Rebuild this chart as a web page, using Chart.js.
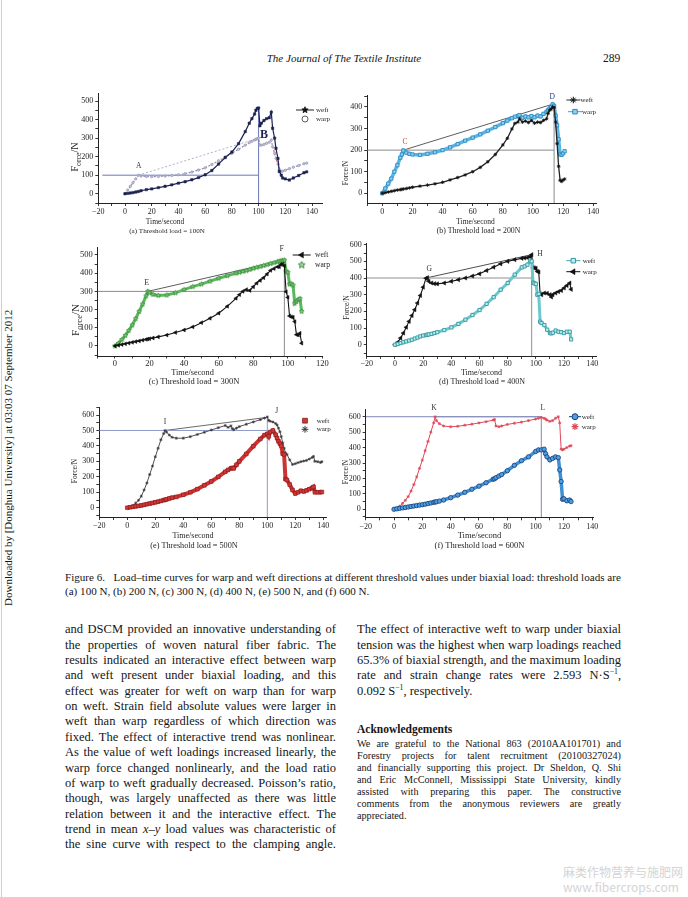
<!DOCTYPE html>
<html>
<head>
<meta charset="utf-8">
<title>Figure 6 – Load–time curves</title>
<script src="https://cdn.jsdelivr.net/npm/chart.js@4.4.1/dist/chart.umd.min.js"></script>
<style>
html,body{margin:0;padding:0;background:#fff}
body{position:relative;width:688px;height:897px;overflow:hidden;font-family:"Liberation Serif","Times New Roman",serif;color:#151515}
.a{position:absolute;white-space:nowrap}
canvas{position:absolute}
.col{position:absolute}
.col div{text-align:justify;text-align-last:justify;white-space:nowrap}
.col div.l{text-align-last:left}
sup{font-size:0.62em;line-height:0;vertical-align:0.6em}
</style>
</head>
<body>
<div class="a" style="left:1px;top:0;width:1px;height:897px;background:#cfcfcf"></div>
<div class="a" style="left:0;width:688px;top:50px;text-align:center;font-style:italic;font-size:11px;line-height:16px">The Journal of The Textile Institute</div>
<div class="a" style="left:603px;top:50px;font-size:11.5px;line-height:16px">289</div>
<div class="a" style="left:2px;top:606px;transform-origin:0 0;transform:rotate(-90deg);font-size:11px;line-height:13px">Downloaded by [Donghua University] at 03:03 07 September 2012</div>

<div class="col" style="left:65px;top:570px;width:555px;font-size:11.1px;line-height:14px">
<div>Figure 6.&nbsp;&nbsp; Load–time curves for warp and weft directions at different threshold values under biaxial load: threshold loads are</div>
<div class="l">(a) 100 N, (b) 200 N, (c) 300 N, (d) 400 N, (e) 500 N, and (f) 600 N.</div>
</div>

<div class="col" style="left:65px;top:622.3px;width:271px;font-size:12.5px;line-height:15.36px">
<div>and DSCM provided an innovative understanding of</div>
<div>the properties of woven natural fiber fabric. The</div>
<div>results indicated an interactive effect between warp</div>
<div>and weft present under biaxial loading, and this</div>
<div>effect was greater for weft on warp than for warp</div>
<div>on weft. Strain field absolute values were larger in</div>
<div>weft than warp regardless of which direction was</div>
<div>fixed. The effect of interactive trend was nonlinear.</div>
<div>As the value of weft loadings increased linearly, the</div>
<div>warp force changed nonlinearly, and the load ratio</div>
<div>of warp to weft gradually decreased. Poisson’s ratio,</div>
<div>though, was largely unaffected as there was little</div>
<div>relation between it and the interactive effect. The</div>
<div>trend in mean <i>x</i>–<i>y</i> load values was characteristic of</div>
<div>the sine curve with respect to the clamping angle.</div>
</div>

<div class="col" style="left:357px;top:622.3px;width:264px;font-size:12.5px;line-height:15.36px">
<div>The effect of interactive weft to warp under biaxial</div>
<div>tension was the highest when warp loadings reached</div>
<div>65.3% of biaxial strength, and the maximum loading</div>
<div>rate and strain change rates were 2.593 N·S<sup>−1</sup>,</div>
<div class="l">0.092 S<sup>−1</sup>, respectively.</div>
</div>

<div class="a" style="left:357px;top:721px;font-size:11.5px;line-height:16px;font-weight:bold">Acknowledgements</div>
<div class="col" style="left:357px;top:737.7px;width:264px;font-size:10.2px;line-height:12px">
<div>We are grateful to the National 863 (2010AA101701) and</div>
<div>Forestry projects for talent recruitment (20100327024)</div>
<div>and financially supporting this project. Dr Sheldon, Q. Shi</div>
<div>and Eric McConnell, Mississippi State University, kindly</div>
<div>assisted with preparing this paper. The constructive</div>
<div>comments from the anonymous reviewers are greatly</div>
<div class="l">appreciated.</div>
</div>

<div class="a" style="left:563px;top:865px;font-family:'Noto Sans CJK SC';font-size:12px;line-height:14px;color:#d4d4d4">麻类作物营养与施肥网</div>
<div class="a" style="left:563px;top:880px;font-family:'Noto Sans CJK SC';font-size:12px;line-height:14px;color:#d4d4d4">www.fibercrops.com</div>

<script>
// ================= DATA =================
// (a) threshold 100 N
const aTime = [0,2,4,6,8,10,12,16,20,25,30,35,40,45,50,55,60,65,70,75,80,85,90,93,95,97,98,99,100,101,102,104,106,108,109.5,110.5,112,113,114.5,115.5,117,118,120,123,126,130,134,136];
const aWeft = [0,2,4,6,9,12,16,22,26,33,40,48,57,65,75,87,102,125,160,195,225,270,335,380,405,430,450,460,462,367,380,395,405,410,440,353,300,245,190,120,100,85,80,74,85,98,113,118];
const aWarp = [0,20,40,60,80,100,95,93,92,93,95,98,102,108,117,128,140,158,178,198,218,240,262,275,283,290,293,297,300,263,262,266,272,278,290,254,218,191,160,130,119,122,127,135,143,152,162,165];
// (b) threshold 200 N
const bTime = [0,2,4,6,8,10,12,13,14,16,18,20,25,30,35,40,45,50,55,60,65,70,75,80,83,86,88,90,91,93,95,97,99,101,103,105,107,109,110,111,112,113,114,115,116,117,118,119,120,121];
const bWeft = [0,3,6,9,12,15,17,18,20,22,25,28,33,38,44,51,62,73,85,100,120,146,180,224,255,298,324,330,345,330,335,328,338,325,330,328,338,345,370,385,390,400,398,330,230,125,60,55,62,66];
const bWarp = [0,22,45,68,100,130,165,180,198,188,183,180,178,183,190,200,213,228,244,258,273,290,307,325,337,348,355,358,362,350,356,352,358,352,360,356,368,378,385,393,400,412,405,360,315,250,180,178,185,195];
// (c) threshold 300 N
const cTime = [0,2,4,6,8,10,12,14,16,18,19,20,22,25,30,35,40,45,50,55,60,65,70,72,74,76,78,80,82,84,86,88,90,92,94,95,96,97,98,99,100,101,102,103,104,105,106,107,108];
const cWeft = [0,4,8,12,16,20,24,28,32,36,38,40,44,50,60,74,88,105,128,152,180,218,262,282,300,310,305,325,345,360,375,395,415,425,435,435,448,450,440,298,267,165,160,158,134,62,60,70,15];
const cWarp = [0,15,35,58,85,115,150,190,230,275,300,292,283,278,280,292,310,326,340,356,372,386,400,405,410,414,420,427,432,437,442,447,453,458,463,465,468,470,472,410,405,340,342,335,235,245,255,260,190];
// (d) threshold 400 N
const dTime = [0,2,4,6,8,10,12,14,16,18,20,22,23,24,26,28,30,35,40,45,50,55,60,65,70,75,80,85,90,92,94,96,97,98,99,100,101,102,103,104,106,108,110,111,112,114,116,118,120,122,124,125];
const dWeft = [0,5,10,15,20,25,30,37,43,50,55,58,60,62,65,70,75,88,104,125,150,178,208,245,285,330,370,420,464,470,480,505,500,372,368,365,300,305,138,130,118,90,70,68,72,85,78,75,70,78,78,32];
const dWarp = [0,15,40,70,105,140,175,210,250,295,345,398,402,380,370,366,365,370,380,390,400,412,425,445,465,485,500,510,518,520,522,528,540,462,460,458,440,436,305,300,310,308,300,286,300,310,318,325,340,355,370,332];
// (e) threshold 500 N
const eTime = [0,2,4,6,8,10,12,14,16,18,20,22,24,26,27,28,30,32,35,40,45,50,55,60,65,70,72,74,75,76,78,80,85,90,95,98,100,101,102,104,106,107,108,109,110,111,112,113,114,116,118,120,122,124,126,128,130,132,133,134,136,138,139];
const eWeft = [0,3,6,9,12,15,19,23,27,31,35,39,44,49,51,54,60,65,70,84,100,120,145,170,200,233,245,255,258,255,278,300,348,398,445,470,478,462,490,500,472,450,430,415,400,350,345,185,180,150,115,92,100,110,105,112,120,128,135,100,100,100,102];
const eWarp = [0,5,15,30,48,75,115,160,215,270,330,385,440,480,500,490,470,456,450,450,460,474,488,503,518,532,520,530,512,505,515,525,540,555,570,580,588,565,560,555,545,535,515,492,460,420,385,355,345,310,280,285,292,298,302,306,315,325,332,300,298,293,298];
// (f) threshold 600 N
const fTime = [0,2,4,6,8,10,12,14,16,18,20,22,24,26,28,29,30,32,35,40,45,50,55,60,65,70,71,72,74,76,80,85,90,95,100,102,104,106,107,108,110,112,114,116,117,118,119,120,122,124,125];
const fWeft = [0,3,6,9,12,15,18,21,24,27,30,33,37,41,45,47,49,53,60,75,92,110,130,150,172,195,198,205,215,225,250,285,315,340,375,385,385,390,360,340,320,330,340,335,255,180,65,68,55,60,50];
const fWarp = [0,8,20,38,58,82,118,160,210,265,319,380,440,500,560,600,575,555,540,535,538,545,552,560,568,578,582,540,535,540,550,558,565,575,585,590,595,590,585,578,570,575,590,600,560,390,385,390,400,410,412];

// guide values per panel (a..f)
const thresholds = [100, 200, 300, 400, 500, 600];
const kneeTimes  = [10, 14, 19, 22, 27, 29];          // A C E G I K
const peakTimes  = [100, 114, 98, 97, 100, 104];      // B D F H J L
const peakForces = [300, 415, 472, 540, 585, 600];
const vLineTops  = [460, 412, 472, 542, 585, 600];
const hLineStarts = [-17, -10, -10, -20, -20, -20];

// tick labels
const aXLabels = [-20,0,20,40,60,80,100,120,140], aYLabels = [0,100,200,300,400,500];
const bXLabels = [0,20,40,60,80,100,120,140],     bYLabels = [0,100,200,300,400];
const cXLabels = [0,20,40,60,80,100,120],         cYLabels = [0,100,200,300,400,500];
const dXLabels = [-20,0,20,40,60,80,100,120,140], dYLabels = [0,100,200,300,400,500,600];
const eXLabels = [-20,0,20,40,60,80,100,120,140], eYLabels = [0,100,200,300,400,500,600];
const fXLabels = [-20,0,20,40,60,80,100,120,140], fYLabels = [0,100,200,300,400,500,600];

const xTitle = 'Time/second';
const captions = ['(a) Threshold load = 100N','(b) Threshold load = 200N','(c) Threshold load = 300N',
                  '(d) Threshold load = 400N','(e) Threshold load = 500N','(f) Threshold load = 600N'];
const letters = [['A','B'],['C','D'],['E','F'],['G','H'],['I','J'],['K','L']];

// ================= HELPERS =================
const FONT = '"Liberation Serif","Times New Roman",serif';
Chart.defaults.font.family = FONT;
Chart.defaults.color = '#1e1e1e';

function pts(t, v) { return t.map((x, i) => ({x: x, y: v[i]})); }
function fmt(v) { return v < 0 ? '\u2212' + (-v) : String(v); }
function tickValues(labels, min, max) {
  const step = labels[1] - labels[0], out = [];
  for (let v = labels[0] - step; v <= labels[labels.length - 1] + step + 1e-9; v += step / 2)
    if (v >= min - 1e-9 && v <= max + 1e-9) out.push(v);
  return out;
}
function starCanvas(r, fill, stroke, lw) {
  const s = Math.ceil(r * 2 + 3), c = document.createElement('canvas');
  c.width = s; c.height = s;
  const g = c.getContext('2d');
  g.beginPath();
  for (let i = 0; i < 10; i++) {
    const ang = -Math.PI / 2 + i * Math.PI / 5, rr = (i % 2) ? r * 0.45 : r;
    g.lineTo(s / 2 + rr * Math.cos(ang), s / 2 + rr * Math.sin(ang));
  }
  g.closePath();
  if (fill) { g.fillStyle = fill; g.fill(); }
  if (stroke) { g.strokeStyle = stroke; g.lineWidth = lw || 0.8; g.stroke(); }
  return c;
}
function drawMarker(ctx, m, x, y) {
  ctx.save();
  if (m.style instanceof HTMLCanvasElement) {
    ctx.drawImage(m.style, x - m.style.width / 2, y - m.style.height / 2);
  } else {
    ctx.fillStyle = m.fill || 'rgba(0,0,0,0)';
    ctx.strokeStyle = m.stroke || '#000';
    ctx.lineWidth = m.bw || 1;
    if (Chart.helpers && Chart.helpers.drawPoint) {
      Chart.helpers.drawPoint(ctx, {pointStyle: m.style, radius: m.r, rotation: m.rot || 0, borderWidth: m.bw || 1}, x, y);
    }
  }
  ctx.restore();
}
function guides(i, yMin, hColor, dColor, dDash) {
  const base = {pointRadius: 0, borderWidth: 1, tension: 0, fill: false};
  return [
    Object.assign({}, base, {data: [{x: hLineStarts[i], y: thresholds[i]}, {x: peakTimes[i], y: thresholds[i]}], borderColor: hColor}),
    Object.assign({}, base, {data: [{x: peakTimes[i], y: yMin}, {x: peakTimes[i], y: vLineTops[i]}], borderColor: hColor}),
    Object.assign({}, base, {data: [{x: kneeTimes[i], y: thresholds[i]}, {x: peakTimes[i], y: peakForces[i]}], borderColor: dColor, borderWidth: 0.8, borderDash: dDash || []})
  ];
}

function makePanel(p) {
  const [rl, rt, rw, rh] = p.rect;
  const cv = document.createElement('canvas');
  cv.width = rw; cv.height = rh;
  cv.style.left = rl + 'px'; cv.style.top = rt + 'px';
  cv.style.width = rw + 'px'; cv.style.height = rh + 'px';
  document.body.appendChild(cv);
  const YW = 30, XH = 14;
  const pad = {
    left: Math.max(0, p.plot[0] - rl - YW), right: Math.max(0, rl + rw - p.plot[1]),
    top: Math.max(0, p.plot[2] - rt), bottom: Math.max(0, rt + rh - p.plot[3] - XH)
  };
  const xt = tickValues(p.xLabels, p.xMin, p.xMax), yt = tickValues(p.yLabels, p.yMin, p.yMax);

  const decor = {
    id: 'decor' + p.idx,
    afterDraw(chart) {
      const ctx = chart.ctx, xs = chart.scales.x, ys = chart.scales.y;
      ctx.save();
      ctx.textAlign = 'center'; ctx.textBaseline = 'middle';
      // point letters
      p.letterPos.forEach((L, k) => {
        ctx.font = (L.bold ? 'bold ' : '') + L.size + 'px ' + FONT;
        ctx.fillStyle = L.color || '#333';
        ctx.fillText(letters[p.idx][k], xs.getPixelForValue(L.x), ys.getPixelForValue(L.y));
      });
      // legend (inside plot area, top right)
      p.legend.forEach(it => {
        const lx = it.mx - rl, ly = it.y - rt;
        if (it.seg) {
          ctx.save();
          ctx.strokeStyle = it.segColor; ctx.lineWidth = 1;
          ctx.beginPath(); ctx.moveTo(lx - it.seg, ly); ctx.lineTo(lx + it.seg, ly); ctx.stroke();
          ctx.restore();
        }
        drawMarker(ctx, it.marker, lx, ly);
        ctx.font = p.legendFont + 'px ' + FONT; ctx.fillStyle = '#222';
        ctx.textAlign = 'left';
        ctx.fillText(it.label, it.tx - rl, ly);
        ctx.textAlign = 'center';
      });
      // x title and caption
      ctx.fillStyle = '#1e1e1e';
      ctx.font = p.xTitle[2] + 'px ' + FONT;
      ctx.fillText(xTitle, p.xTitle[0] - rl, p.xTitle[1] - rt);
      ctx.font = p.cap[2] + 'px ' + FONT;
      ctx.fillText(captions[p.idx], p.cap[0] - rl, p.cap[1] - rt);
      // y title (rotated), optional subscript form F_orce/N
      const s = p.yTitle[2];
      ctx.translate(p.yTitle[0] - rl, p.yTitle[1] - rt);
      ctx.rotate(-Math.PI / 2);
      ctx.textAlign = 'left';
      const parts = p.yTitle[3] ? [['F', s, 0], ['orce', s * 0.78, s * 0.32], ['/N', s, 0]] : [['Force/N', s, 0]];
      let total = 0;
      parts.forEach(q => { ctx.font = q[1] + 'px ' + FONT; q.w = ctx.measureText(q[0]).width; total += q.w; });
      let cx = -total / 2;
      parts.forEach(q => { ctx.font = q[1] + 'px ' + FONT; ctx.fillText(q[0], cx, q[2]); cx += q.w; });
      ctx.restore();
    }
  };

  const axisCommon = (ticksVals, labels, fs, isX) => ({
    type: 'linear',
    afterBuildTicks: sc => { sc.ticks = ticksVals.map(v => ({value: v})); },
    afterFit: sc => { if (isX) sc.height = XH; else sc.width = YW; },
    ticks: {
      autoSkip: false, maxRotation: 0, padding: isX ? p.xPad : 2,
      font: {size: fs}, color: '#1e1e1e',
      callback: v => labels.indexOf(v) >= 0 ? fmt(v) : ''
    },
    grid: {display: true, drawOnChartArea: false, drawTicks: true, tickLength: isX ? p.xTick : 3, tickColor: '#222', tickWidth: 0.9},
    border: {display: true, color: '#222', width: 1}
  });

  const xs = axisCommon(xt, p.xLabels, p.tickFont, true); xs.min = p.xMin; xs.max = p.xMax;
  const ys = axisCommon(yt, p.yLabels, p.tickFont, false); ys.min = p.yMin; ys.max = p.yMax;

  new Chart(cv, {
    type: 'line',
    data: {datasets: p.datasets},
    options: {
      responsive: false, animation: false, events: [],
      layout: {padding: pad},
      plugins: {legend: {display: false}, tooltip: {enabled: false}, title: {display: false}},
      elements: {line: {tension: 0}},
      scales: {x: xs, y: ys}
    },
    plugins: [decor]
  });
}

// ================= PANELS =================
const starBlack = starCanvas(3.3, '#111', '#111');
const starGreenLeg = starCanvas(3.6, '#a6dca6', '#2e7d32', 0.9);
const starGreen = starCanvas(2.6, '#86c986', '#2f8a2f', 0.7);

// (a)
makePanel({
  idx: 0, rect: [40, 82, 300, 160], plot: [98.3, 322.7, 93.6, 203.0], xPad: 1.5, xTick: 3,
  xMin: -20, xMax: 148, yMin: -50, yMax: 540, xLabels: aXLabels, yLabels: aYLabels, tickFont: 8,
  datasets: [
    {label: 'weft', data: pts(aTime, aWeft), borderColor: '#1c2352', borderWidth: 1.2, pointStyle: 'rect', pointRadius: 1.7,
     pointBackgroundColor: '#1c2352', pointBorderColor: '#1c2352', pointBorderWidth: 0.5},
    {label: 'warp', data: pts(aTime, aWarp), borderColor: '#8f8db0', borderWidth: 1.2, borderDash: [2, 1.5], pointStyle: 'circle', pointRadius: 1.2,
     pointBackgroundColor: '#c4c2d8', pointBorderColor: '#8f8db0', pointBorderWidth: 0.6,
     segment: {borderColor: c => (c.p0.parsed.x >= 110 && c.p1.parsed.x <= 118) ? '#d05a6a' : undefined}}
  ].concat(guides(0, -50, '#6b78b5', '#9d9bbb', [2, 2])),
  letterPos: [{x: 10.3, y: 150, size: 7.5, color: '#333'}, {x: 104, y: 316, size: 12, bold: true, color: '#1c2352'}],
  legendFont: 7,
  legend: [
    {label: 'weft', mx: 305, y: 110, tx: 316, seg: 9, segColor: '#222', marker: {style: starBlack}},
    {label: 'warp', mx: 305, y: 119, tx: 316, seg: 0, marker: {style: 'circle', r: 3, fill: 'rgba(0,0,0,0)', stroke: '#333', bw: 0.8}}
  ],
  xTitle: [165, 221.7, 7.5], cap: [167, 230.7, 7.1], yTitle: [75.5, 157, 10, true]
});

// (b)
makePanel({
  idx: 1, rect: [330, 82, 290, 160], plot: [367.2, 596.3, 95.1, 203.0], xPad: 1.5, xTick: 3,
  xMin: -10, xMax: 142, yMin: -45, yMax: 455, xLabels: bXLabels, yLabels: bYLabels, tickFont: 8,
  datasets: [
    {label: 'weft', data: pts(bTime, bWeft), borderColor: '#222', borderWidth: 1.3, pointStyle: 'star', pointRadius: 1.8,
     pointBackgroundColor: '#111', pointBorderColor: '#111', pointBorderWidth: 0.8},
    {label: 'warp', data: pts(bTime, bWarp), borderColor: '#5ab4e4', borderWidth: 3.5, pointStyle: 'rect', pointRadius: 2.3,
     pointBackgroundColor: '#8fd0f0', pointBorderColor: '#2a8cc4', pointBorderWidth: 0.9}
  ].concat(guides(1, -45, '#8a8a8a', '#333', [])),
  letterPos: [{x: 15, y: 236, size: 7.5, color: '#c8502a'}, {x: 112.8, y: 445, size: 7.5, color: '#2a3a7a'}],
  legendFont: 7,
  legend: [
    {label: 'weft', mx: 573.3, y: 100, tx: 580.5, seg: 7, segColor: '#333', marker: {style: 'star', r: 3.3, stroke: '#111', bw: 1}},
    {label: 'warp', mx: 575, y: 111.7, tx: 582, seg: 7, segColor: '#3aa0d8', marker: {style: 'rect', r: 3.2, fill: '#8fd0f0', stroke: '#2a8cc4', bw: 1}}
  ],
  xTitle: [475.5, 221.7, 7.5], cap: [478.5, 230.7, 7.8], yTitle: [346.5, 173, 7.5, false]
});

// (c)
makePanel({
  idx: 2, rect: [40, 238, 300, 160], plot: [97.7, 322.4, 247.7, 356.0], xPad: 0, xTick: 2.5,
  xMin: -10, xMax: 120, yMin: -55, yMax: 540, xLabels: cXLabels, yLabels: cYLabels, tickFont: 8.5,
  datasets: [
    {label: 'weft', data: pts(cTime, cWeft), borderColor: '#111', borderWidth: 1.1, pointStyle: 'triangle', pointRotation: -90, pointRadius: 2.2,
     pointBackgroundColor: '#111', pointBorderColor: '#111', pointBorderWidth: 0.5},
    {label: 'warp', data: pts(cTime, cWarp), borderColor: '#5cb85c', borderWidth: 3, pointStyle: starGreen}
  ].concat(guides(2, -55, '#8a8a8a', '#333', [])),
  letterPos: [{x: 18.3, y: 344, size: 8, color: '#333'}, {x: 96.5, y: 531, size: 8, color: '#333'}],
  legendFont: 7.5,
  legend: [
    {label: 'weft', mx: 301.7, y: 255, tx: 315, seg: 9, segColor: '#111', marker: {style: 'triangle', r: 3.4, rot: -90, fill: '#111', stroke: '#111', bw: 0.5}},
    {label: 'warp', mx: 301.7, y: 265, tx: 315, seg: 0, marker: {style: starGreenLeg}}
  ],
  xTitle: [192.5, 372.5, 8.3], cap: [194, 381.5, 8.5], yTitle: [76, 320, 11, true]
});

// (d)
makePanel({
  idx: 3, rect: [330, 236, 290, 164], plot: [366.8, 596.5, 243.0, 356.4], xPad: 0, xTick: 2.5,
  xMin: -20, xMax: 143, yMin: -70, yMax: 610, xLabels: dXLabels, yLabels: dYLabels, tickFont: 8,
  datasets: [
    {label: 'weft', data: pts(dTime, dWeft), borderColor: '#6cc8cc', borderWidth: 3, pointStyle: 'rect', pointRadius: 2.3,
     pointBackgroundColor: '#c2eaec', pointBorderColor: '#2f9aa3', pointBorderWidth: 0.9},
    {label: 'warp', data: pts(dTime, dWarp), borderColor: '#111', borderWidth: 1.1, pointStyle: 'triangle', pointRotation: -90, pointRadius: 2.4,
     pointBackgroundColor: '#111', pointBorderColor: '#111', pointBorderWidth: 0.5}
  ].concat(guides(3, -70, '#8f8f8f', '#222', [])),
  letterPos: [{x: 24.3, y: 456, size: 7.5, color: '#333'}, {x: 102.9, y: 544, size: 7.5, color: '#333'}],
  legendFont: 7,
  legend: [
    {label: 'weft', mx: 573.3, y: 260.7, tx: 582.7, seg: 7, segColor: '#3aa8b0', marker: {style: 'rect', r: 3.2, fill: '#c2eaec', stroke: '#2f9aa3', bw: 1}},
    {label: 'warp', mx: 573.3, y: 271.7, tx: 582.7, seg: 7, segColor: '#111', marker: {style: 'triangle', r: 3.4, rot: -90, fill: '#111', stroke: '#111', bw: 0.5}}
  ],
  xTitle: [481.5, 372.5, 8], cap: [482, 381.5, 8], yTitle: [346.7, 307.5, 7.5, false]
});

// (e)
makePanel({
  idx: 4, rect: [40, 398, 300, 168], plot: [99.3, 326.1, 407.3, 517.0], xPad: 1.5, xTick: 3,
  xMin: -20, xMax: 142, yMin: -60, yMax: 650, xLabels: eXLabels, yLabels: eYLabels, tickFont: 8,
  datasets: [
    {label: 'weft', data: pts(eTime, eWeft), borderColor: '#cc3434', borderWidth: 4, pointStyle: 'rect', pointRadius: 2.6,
     pointBackgroundColor: '#d03838', pointBorderColor: '#8a1515', pointBorderWidth: 0.6},
    {label: 'warp', data: pts(eTime, eWarp), borderColor: '#5a4a5a', borderWidth: 1, pointStyle: 'star', pointRadius: 1.5,
     pointBackgroundColor: '#333', pointBorderColor: '#3a3a3a', pointBorderWidth: 0.7}
  ].concat(guides(4, -60, '#8f9cc8', '#444', [])),
  letterPos: [{x: 26.9, y: 557, size: 7.5, color: '#333'}, {x: 106.7, y: 628, size: 7.5, color: '#333'}],
  legendFont: 7,
  legend: [
    {label: 'weft', mx: 305, y: 420.7, tx: 316.7, seg: 0, marker: {style: 'rect', r: 3.4, fill: '#d03838', stroke: '#8a1515', bw: 0.8}},
    {label: 'warp', mx: 305, y: 429.3, tx: 316.7, seg: 0, marker: {style: 'star', r: 3.4, stroke: '#333', bw: 1}}
  ],
  xTitle: [193, 536, 8], cap: [194, 545.7, 8.2], yTitle: [75, 471, 7.5, false]
});

// (f)
makePanel({
  idx: 5, rect: [330, 398, 290, 168], plot: [365.7, 593.7, 409.8, 517.3], xPad: 1.5, xTick: 3,
  xMin: -20, xMax: 141, yMin: -52, yMax: 645, xLabels: fXLabels, yLabels: fYLabels, tickFont: 8,
  datasets: [
    {label: 'weft', data: pts(fTime, fWeft), borderColor: '#3f8fd2', borderWidth: 3.5, pointStyle: 'circle', pointRadius: 2.2,
     pointBackgroundColor: '#4aa0e0', pointBorderColor: '#1a3a7a', pointBorderWidth: 0.8},
    {label: 'warp', data: pts(fTime, fWarp), borderColor: '#e04858', borderWidth: 1, pointStyle: 'star', pointRadius: 1.5,
     pointBackgroundColor: '#e04858', pointBorderColor: '#e04858', pointBorderWidth: 0.8}
  ].concat(guides(5, -52, '#7d88b8', '#7d88b8', [])),
  letterPos: [{x: 28.2, y: 655, size: 7.5, color: '#333'}, {x: 105, y: 655, size: 7.5, color: '#333'}],
  legendFont: 7,
  legend: [
    {label: 'weft', mx: 575, y: 416.7, tx: 581.7, seg: 6, segColor: '#1a3a7a', marker: {style: 'circle', r: 3, fill: '#4aa0e0', stroke: '#1a3a7a', bw: 1}},
    {label: 'warp', mx: 575, y: 426.7, tx: 581.7, seg: 0, marker: {style: 'star', r: 3.4, stroke: '#e04858', bw: 1.2}}
  ],
  xTitle: [479.5, 536, 8.5], cap: [479.5, 545.7, 8.5], yTitle: [346, 472, 7.5, false]
});
</script>
</body>
</html>
